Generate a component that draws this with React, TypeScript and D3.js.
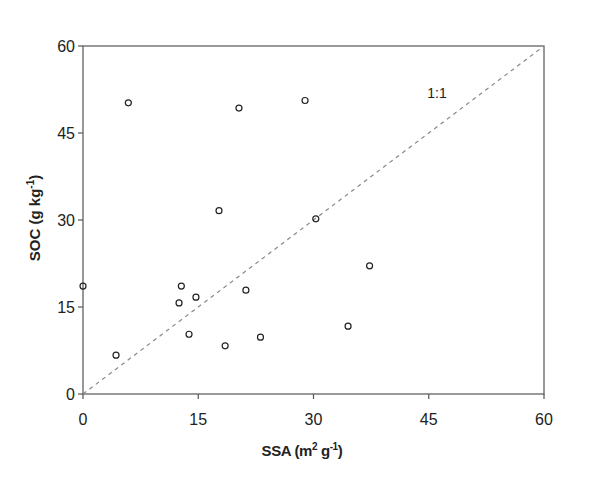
import React from 'react';
import * as d3 from 'd3';

// SSA (m2 g-1) vs SOC (g kg-1)
const ssa = [0, 4.3, 5.9, 12.8, 12.5, 14.7, 13.8, 17.7, 20.3, 28.9, 30.3, 21.2, 18.5, 23.1, 34.5, 37.3];
const soc = [18.6, 6.7, 50.2, 18.6, 15.7, 16.7, 10.3, 31.6, 49.3, 50.6, 30.2, 17.9, 8.3, 9.8, 11.7, 22.1];
const ticks = [0, 15, 30, 45, 60];

const W = 600;
const H = 495;
const left = 83;
const right = 544;
const top = 46;
const bottom = 394;

export default function App() {
  const x = d3.scaleLinear().domain([0, 60]).range([left, right]);
  const y = d3.scaleLinear().domain([0, 60]).range([bottom, top]);
  const font = 'Arial, "Liberation Sans", sans-serif';
  const axisColor = '#555';

  return (
    <svg width={W} height={H} style={{ position: 'absolute', left: 0, top: 0, background: '#fff' }} fontFamily={font}>
      {/* frame */}
      <rect x={left} y={top} width={right - left} height={bottom - top} fill="none" stroke={axisColor} strokeWidth={1.2} />

      {/* 1:1 line */}
      <line x1={x(0)} y1={y(0)} x2={x(60)} y2={y(60)} stroke="#888" strokeWidth={1.2} strokeDasharray="4,4" />
      <text x={437} y={98} fontSize={14} textAnchor="middle" fill="#222">1:1</text>

      {/* x ticks */}
      {ticks.map(t => (
        <g key={'x' + t}>
          <line x1={x(t)} x2={x(t)} y1={bottom} y2={bottom + 5} stroke={axisColor} strokeWidth={1.2} />
          <text x={x(t)} y={bottom + 31} fontSize={16} textAnchor="middle" fill="#222">{t}</text>
        </g>
      ))}

      {/* y ticks */}
      {ticks.map(t => (
        <g key={'y' + t}>
          <line x1={left - 5} x2={left} y1={y(t)} y2={y(t)} stroke={axisColor} strokeWidth={1.2} />
          <text x={left - 8} y={y(t) + 6} fontSize={16} textAnchor="end" fill="#222">{t}</text>
        </g>
      ))}

      {/* points */}
      {ssa.map((v, i) => (
        <circle key={i} cx={x(v)} cy={y(soc[i])} r={3} fill="none" stroke="#222" strokeWidth={1.2} />
      ))}

      {/* axis titles */}
      <text x={302} y={456} fontSize={15} fontWeight="bold" textAnchor="middle" fill="#222" letterSpacing={-0.4}>
        SSA (m<tspan dy={-6} fontSize={10}>2</tspan><tspan dy={6}> g</tspan><tspan dy={-6} fontSize={10}>-1</tspan><tspan dy={6}>)</tspan>
      </text>
      <text transform={`translate(40, 218) rotate(-90)`} fontSize={15} fontWeight="bold" textAnchor="middle" fill="#222">
        SOC (g  kg<tspan dy={-6} fontSize={10}>-1</tspan><tspan dy={6}>)</tspan>
      </text>
    </svg>
  );
}
